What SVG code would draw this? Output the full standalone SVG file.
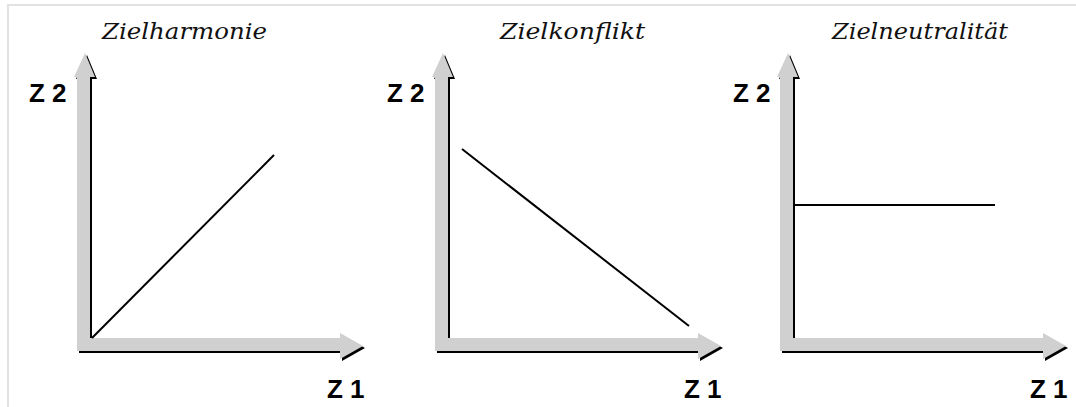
<svg xmlns="http://www.w3.org/2000/svg" width="1076" height="407" viewBox="0 0 1076 407">
  <style>
    .title { font-family: "DejaVu Serif", "Liberation Serif", serif; font-style: italic; font-size: 23px; fill: #111; text-anchor: middle; }
    .lab { font-family: "Liberation Sans", Arial, sans-serif; font-weight: bold; font-size: 26px; fill: #000; }
    .axis { fill: #d0d0d0; }
    .shadow { fill: #000; }
    .line { stroke: #000; stroke-width: 2; fill: none; }
    .frame { stroke: #e2e2e2; stroke-width: 2; fill: none; }
  </style>
  <defs>
    <path id="axes" d="M0,24 L-3,24 L8,0 L18,24 L13,24 L13,285 L263,285 L263,280 L286,293 L263,306 L263,298 L0,298 Z"/>
  </defs>
  <rect width="1076" height="407" fill="#fff"/>
  <path class="frame" d="M8,407 L8,5 L1076,5"/>

  <g id="panel1">
    <text class="title" x="184.5" y="39" textLength="165" lengthAdjust="spacingAndGlyphs">Zielharmonie</text>
    <g transform="translate(77,53)">
      <use href="#axes" class="shadow" transform="translate(2,2)"/>
      <use href="#axes" class="axis"/>
    </g>
    <text class="lab" x="29" y="102">Z 2</text>
    <text class="lab" x="327" y="398">Z 1</text>
  </g>

  <g id="panel2">
    <text class="title" x="572.5" y="39" textLength="145" lengthAdjust="spacingAndGlyphs">Zielkonflikt</text>
    <g transform="translate(435,53)">
      <use href="#axes" class="shadow" transform="translate(2,2)"/>
      <use href="#axes" class="axis"/>
    </g>
    <text class="lab" x="387" y="102">Z 2</text>
    <text class="lab" x="684" y="398">Z 1</text>
  </g>

  <g id="panel3">
    <text class="title" x="920" y="39" textLength="176" lengthAdjust="spacingAndGlyphs">Zielneutralität</text>
    <g transform="translate(780,53)">
      <use href="#axes" class="shadow" transform="translate(2,2)"/>
      <use href="#axes" class="axis"/>
    </g>
    <text class="lab" x="733" y="102">Z 2</text>
    <text class="lab" x="1030" y="398">Z 1</text>
  </g>

  <g id="connectors">
    <line class="line" x1="92" y1="338" x2="274" y2="155"/>
    <line class="line" x1="462" y1="149" x2="689" y2="326"/>
    <line class="line" x1="794" y1="205" x2="995" y2="205"/>
  </g>
</svg>
